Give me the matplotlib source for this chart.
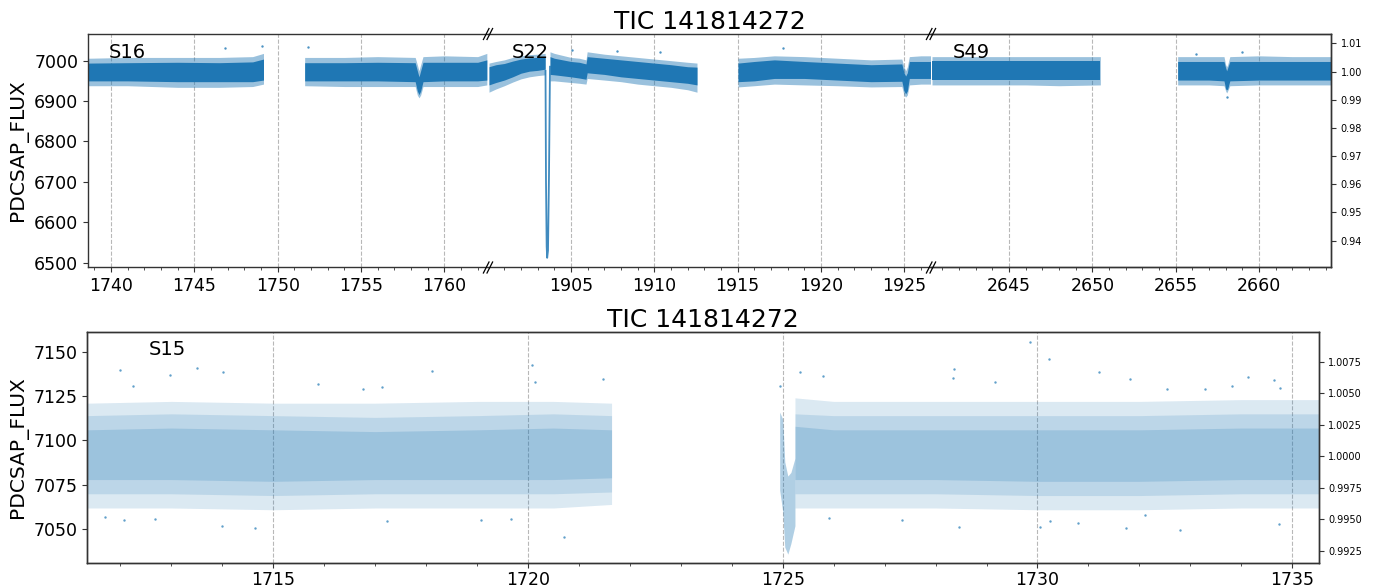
import matplotlib
matplotlib.use('Agg')
import matplotlib.pyplot as plt
from matplotlib.ticker import MultipleLocator, FormatStrFormatter
from matplotlib.lines import Line2D

W, H = 1374, 587
BLUE = '#1f77b4'

# ------------------------------------------------------------------ data
# Top panel: light-curve bands per segment (time, dense core lo/hi, outer lo/hi)
s16a_t = [1738.62, 1741.0, 1744.0, 1746.5, 1748.5, 1749.15]
s16a_clo = [6950, 6950, 6948, 6948, 6948, 6952]
s16a_chi = [6994, 6995, 6996, 6995, 6997, 7004]
s16a_olo = [6938, 6938, 6934, 6934, 6936, 6942]
s16a_ohi = [7006, 7008, 7008, 7008, 7010, 7018]

s16b_t = [1751.62, 1754.0, 1756.0, 1758.25, 1758.38, 1758.48, 1758.58, 1758.72, 1760.0, 1762.0, 1762.55]
s16b_clo = [6950, 6950, 6950, 6948, 6925, 6916, 6925, 6948, 6950, 6950, 6952]
s16b_chi = [6995, 6995, 6996, 6995, 6975, 6960, 6975, 6996, 6996, 6996, 7002]
s16b_olo = [6938, 6936, 6936, 6936, 6915, 6908, 6915, 6936, 6936, 6936, 6940]
s16b_ohi = [7008, 7008, 7010, 7008, 6990, 6975, 6990, 7010, 7012, 7010, 7018]

s22a_t = [1900.08, 1900.5, 1901.0, 1901.5, 1902.0, 1902.5, 1903.0, 1903.45]
s22a_clo = [6940, 6946, 6952, 6960, 6969, 6974, 6976, 6979]
s22a_chi = [6985, 6990, 6993, 6999, 7004, 7007, 7008, 7008]
s22a_olo = [6922, 6930, 6938, 6947, 6955, 6960, 6963, 6965]
s22a_ohi = [6994, 6998, 7002, 7008, 7012, 7015, 7016, 7018]

s22b_t = [1903.74, 1904.0, 1905.0, 1905.5, 1905.9, 1905.97, 1907.0, 1908.0, 1909.0, 1910.0, 1911.0, 1912.0, 1912.56]
s22b_clo = [6966, 6965, 6960, 6957, 6954, 6970, 6966, 6960, 6956, 6952, 6948, 6944, 6940]
s22b_chi = [7010, 7006, 6998, 6996, 6992, 7010, 7006, 7002, 6998, 6994, 6990, 6985, 6984]
s22b_olo = [6950, 6950, 6946, 6944, 6942, 6956, 6952, 6948, 6942, 6938, 6934, 6928, 6922]
s22b_ohi = [7022, 7018, 7008, 7006, 7002, 7022, 7016, 7012, 7008, 7004, 7000, 6996, 6994]

s22c_t = [1915.02, 1916.0, 1917.2, 1919.0, 1921.0, 1923.0, 1924.85, 1924.98, 1925.08, 1925.18, 1925.3, 1926.0, 1926.58]
s22c_clo = [6948, 6950, 6956, 6956, 6952, 6948, 6949, 6925, 6918, 6925, 6956, 6956, 6956]
s22c_chi = [6994, 6998, 7002, 6998, 6994, 6990, 6992, 6970, 6962, 6970, 6998, 6998, 6998]
s22c_olo = [6935, 6938, 6942, 6940, 6938, 6935, 6936, 6915, 6910, 6915, 6940, 6942, 6942]
s22c_ohi = [7006, 7008, 7012, 7010, 7006, 7002, 7004, 6985, 6975, 6985, 7010, 7012, 7012]

s49a_t = [2640.38, 2643.0, 2646.0, 2648.0, 2650.48]
s49a_clo = [6952, 6952, 6952, 6952, 6952]
s49a_chi = [6998, 6998, 6998, 6998, 6998]
s49a_olo = [6940, 6940, 6940, 6938, 6940]
s49a_ohi = [7010, 7010, 7010, 7010, 7010]

s49b_t = [2655.12, 2657.0, 2657.9, 2658.0, 2658.06, 2658.12, 2658.25, 2660.0, 2662.0, 2664.32]
s49b_clo = [6952, 6952, 6950, 6930, 6928, 6930, 6950, 6952, 6952, 6952]
s49b_chi = [6998, 6998, 6998, 6982, 6975, 6982, 6998, 6998, 6998, 6998]
s49b_olo = [6940, 6940, 6938, 6925, 6920, 6925, 6938, 6940, 6940, 6940]
s49b_ohi = [7010, 7010, 7010, 6990, 6985, 6990, 7010, 7012, 7010, 7010]

# deep eclipse in S22 (ingress / egress)
ecl_t = [1903.47, 1903.50, 1903.54, 1903.57, 1903.62, 1903.68, 1903.74]
ecl_f = [6975, 6700, 6540, 6512, 6530, 6720, 6985]

# isolated points above the top-panel bands
top_out_t = [1746.84, 1749.04, 1751.84, 1905.06, 1907.78, 1910.36, 1917.7, 2656.22, 2658.98, 2658.06]
top_out_f = [7032, 7037, 7034, 7026, 7025, 7022, 7031, 7016, 7022, 6909]

# Bottom panel (S15): bands (outer, middle, core)
s15a_t = [1711.35, 1713.0, 1715.0, 1717.0, 1719.0, 1720.5, 1721.64]
s15a_olo = [7062, 7062, 7061, 7062, 7062, 7062, 7064]
s15a_ohi = [7121, 7122, 7121, 7121, 7122, 7122, 7121]
s15a_mlo = [7070, 7070, 7069, 7070, 7070, 7070, 7071]
s15a_mhi = [7114, 7115, 7114, 7113, 7114, 7115, 7114]
s15a_clo = [7078, 7078, 7077, 7078, 7078, 7078, 7079]
s15a_chi = [7106, 7107, 7106, 7105, 7106, 7107, 7106]

s15r_t = [1724.94, 1725.0, 1725.04, 1725.1, 1725.16, 1725.24]
s15r_lo = [7072, 7060, 7040, 7036, 7042, 7052]
s15r_hi = [7116, 7112, 7088, 7080, 7082, 7090]

s15b_t = [1725.24, 1726.0, 1728.0, 1730.0, 1732.0, 1734.0, 1735.52]
s15b_olo = [7062, 7062, 7062, 7061, 7061, 7062, 7062]
s15b_ohi = [7124, 7122, 7122, 7122, 7122, 7123, 7123]
s15b_mlo = [7070, 7070, 7070, 7069, 7069, 7070, 7070]
s15b_mhi = [7115, 7114, 7114, 7114, 7114, 7115, 7115]
s15b_clo = [7078, 7078, 7078, 7077, 7077, 7078, 7078]
s15b_chi = [7108, 7106, 7106, 7106, 7106, 7107, 7107]

bot_out_t = [1711.996, 1712.98, 1713.50, 1714.01, 1712.25, 1715.88, 1718.12, 1720.07, 1720.13,
             1721.47, 1716.76, 1717.13, 1713.99, 1714.65, 1720.70, 1711.70, 1712.08, 1712.67,
             1717.23, 1719.08, 1719.67, 1729.85, 1730.22, 1731.20, 1725.33, 1725.80, 1728.37,
             1728.35, 1729.17, 1731.82, 1734.14, 1734.65, 1734.77, 1733.82, 1732.54, 1733.28,
             1724.95, 1728.46, 1730.05, 1730.24, 1731.74, 1732.80, 1734.75, 1725.91, 1727.34,
             1730.79, 1732.12]
bot_out_f = [7139.7, 7136.9, 7140.7, 7138.7, 7130.9, 7131.7, 7139.1, 7142.5, 7132.8,
             7134.5, 7129.0, 7130.0, 7052.0, 7050.6, 7045.9, 7057.0, 7055.0, 7055.9,
             7054.9, 7055.0, 7056.0, 7155.3, 7145.7, 7138.7, 7138.7, 7136.2, 7140.3,
             7135.0, 7133.1, 7134.8, 7135.9, 7134.1, 7129.4, 7130.7, 7128.8, 7128.8,
             7130.9, 7051.2, 7051.2, 7054.7, 7050.6, 7049.7, 7053.2, 7056.6, 7055.3,
             7053.4, 7058.1]

top_norm = 6973.0
bot_norm = 7091.0
top_xlims = [(1738.62, 1762.62), (1900.02, 1926.6), (2640.32, 2664.32)]
top_ylim = (6489.4, 7066.0)
bot_xlim = (1711.35, 1735.52)
bot_ylim = (7031.2, 7160.9)
top_right_ticks = [0.94, 0.95, 0.96, 0.97, 0.98, 0.99, 1.00, 1.01]
bot_right_ticks = [0.9925, 0.9950, 0.9975, 1.0000, 1.0025, 1.0050, 1.0075]

# ------------------------------------------------------------------ figure
fig = plt.figure(figsize=(W / 100, H / 100), dpi=100)


def fx(px):
    return px / W


def fy(py):
    return 1 - py / H


SPINE = '#333333'
TICK_FS = 12.5


def style_axis(ax, xpad=3.5):
    for s in ax.spines.values():
        s.set_color(SPINE)
        s.set_linewidth(1.0)
    ax.xaxis.set_major_locator(MultipleLocator(5))
    ax.xaxis.set_minor_locator(MultipleLocator(1))
    ax.tick_params(axis='both', which='major', labelsize=TICK_FS, length=3.5, color=SPINE)
    ax.tick_params(axis='x', which='major', pad=xpad)
    ax.tick_params(axis='x', which='minor', length=2.2, color=SPINE)
    ax.grid(True, axis='x', which='major', linestyle='--', color='#b8b8b8', linewidth=0.8)
    ax.set_axisbelow(True)


def band(ax, t, lo, hi, alpha):
    ax.fill_between(t, lo, hi, color=BLUE, alpha=alpha, linewidth=0)


# top panel sub-axes pixel extents
top_px = [(88, 488), (488, 931), (931, 1331)]
top_y0, top_y1 = 34, 267
axes_top = []
for (x0, x1), xl in zip(top_px, top_xlims):
    ax = fig.add_axes([fx(x0), fy(top_y1), (x1 - x0) / W, (top_y1 - top_y0) / H])
    ax.set_xlim(*xl)
    ax.set_ylim(*top_ylim)
    style_axis(ax)
    axes_top.append(ax)

a1, a2, a3 = axes_top
a1.yaxis.set_major_locator(MultipleLocator(100))
a1.set_ylabel('PDCSAP_FLUX', fontsize=14.5)

segs = [
    (a1, s16a_t, s16a_clo, s16a_chi, s16a_olo, s16a_ohi),
    (a1, s16b_t, s16b_clo, s16b_chi, s16b_olo, s16b_ohi),
    (a2, s22a_t, s22a_clo, s22a_chi, s22a_olo, s22a_ohi),
    (a2, s22b_t, s22b_clo, s22b_chi, s22b_olo, s22b_ohi),
    (a2, s22c_t, s22c_clo, s22c_chi, s22c_olo, s22c_ohi),
    (a3, s49a_t, s49a_clo, s49a_chi, s49a_olo, s49a_ohi),
    (a3, s49b_t, s49b_clo, s49b_chi, s49b_olo, s49b_ohi),
]
for ax, t, clo, chi, olo, ohi in segs:
    band(ax, t, olo, ohi, 0.45)
    band(ax, t, clo, chi, 1.0)

a2.plot(ecl_t, ecl_f, color=BLUE, lw=1.3, alpha=0.85)
for ax, (xl0, xl1) in zip(axes_top, top_xlims):
    pts = [(t, f) for t, f in zip(top_out_t, top_out_f) if xl0 <= t <= xl1]
    if pts:
        ax.scatter([p[0] for p in pts], [p[1] for p in pts], s=3, color=BLUE, linewidths=0, alpha=0.8)

for ax, lab, xf in [(a1, 'S16', 0.051), (a2, 'S22', 0.053), (a3, 'S49', 0.054)]:
    ax.text(xf, 0.896, lab, transform=ax.transAxes, fontsize=14, va='baseline', ha='left')

a2.set_title('TIC 141814272', fontsize=18, pad=2)

tw = a3.twinx()
tw.set_ylim(top_ylim[0] / top_norm, top_ylim[1] / top_norm)
tw.set_yticks(top_right_ticks)
tw.yaxis.set_major_formatter(FormatStrFormatter('%.2f'))
tw.tick_params(axis='y', labelsize=7, length=3.5, color=SPINE)
for s in tw.spines.values():
    s.set_color(SPINE)
    s.set_linewidth(1.0)
tw.spines['left'].set_visible(False)

# hide inner spines / ticks of the broken axis (after twinx, which resets ticks)
a1.spines['right'].set_visible(False)
a2.spines['left'].set_visible(False)
a2.spines['right'].set_visible(False)
a3.spines['left'].set_visible(False)
a1.tick_params(axis='y', which='both', right=False)
for ax in (a2, a3):
    ax.tick_params(axis='y', which='both', left=False, right=False,
                   labelleft=False, labelright=False)


# break marks "//"
def brk(xc, yc):
    for dx in (-1.8, 1.8):
        fig.add_artist(Line2D([fx(xc + dx - 2.8), fx(xc + dx + 2.8)],
                              [fy(yc + 5.5), fy(yc - 5.5)],
                              color='black', lw=0.9, transform=fig.transFigure))


for xb in (488, 931):
    brk(xb, top_y0)
    brk(xb, top_y1 + 0.5)

# bottom panel
bx0, bx1, by0, by1 = 87.3, 1318.7, 332.3, 562.7
axb = fig.add_axes([fx(bx0), fy(by1), (bx1 - bx0) / W, (by1 - by0) / H])
axb.set_xlim(*bot_xlim)
axb.set_ylim(*bot_ylim)
style_axis(axb, xpad=2.5)
axb.yaxis.set_major_locator(MultipleLocator(25))
axb.set_ylabel('PDCSAP_FLUX', fontsize=14.5)

for t, olo, ohi, mlo, mhi, clo, chi in [
        (s15a_t, s15a_olo, s15a_ohi, s15a_mlo, s15a_mhi, s15a_clo, s15a_chi),
        (s15b_t, s15b_olo, s15b_ohi, s15b_mlo, s15b_mhi, s15b_clo, s15b_chi)]:
    band(axb, t, olo, ohi, 0.16)
    band(axb, t, mlo, mhi, 0.16)
    band(axb, t, clo, chi, 0.2)
band(axb, s15r_t, s15r_lo, s15r_hi, 0.35)
axb.scatter(bot_out_t, bot_out_f, s=3, color=BLUE, linewidths=0, alpha=0.7)

axb.text(0.05, 0.9015, 'S15', transform=axb.transAxes, fontsize=14, va='baseline', ha='left')
axb.set_title('TIC 141814272', fontsize=18, pad=3)

twb = axb.twinx()
twb.set_ylim(bot_ylim[0] / bot_norm, bot_ylim[1] / bot_norm)
twb.set_yticks(bot_right_ticks)
twb.yaxis.set_major_formatter(FormatStrFormatter('%.4f'))
twb.tick_params(axis='y', labelsize=7, length=3.5, color=SPINE)
for s in twb.spines.values():
    s.set_color(SPINE)
    s.set_linewidth(1.0)

fig.savefig('out.png', dpi=100)
